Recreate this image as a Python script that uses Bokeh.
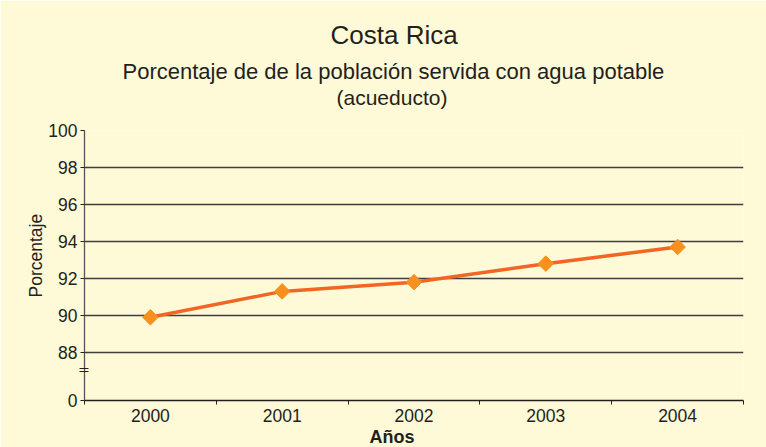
import math
from bokeh.plotting import figure
from bokeh.models import Range1d, FixedTicker, Title
from bokeh.embed import file_html
from bokeh.resources import INLINE

# ---- data ----
years = ["2000", "2001", "2002", "2003", "2004"]
values = [89.9, 91.3, 91.8, 92.8, 93.7]
y_ticks = [88, 90, 92, 94, 96, 98, 100]
y_zero_pos = 85.4          # where the broken axis shows "0"
y_break = [86.95, 87.15]   # axis break mark

title = "Costa Rica"
subtitle1 = "Porcentaje de  de la población servida con agua potable"
subtitle2 = "(acueducto)"
x_label = "Años"
y_label = "Porcentaje"

BG = "#FEF9D7"
TXT = "#231F20"
GRID = "#3F3F3F"

W, H = 766, 447
BL = 84

p = figure(width=W, height=H, output_backend="svg", toolbar_location=None,
           x_range=Range1d(0, len(years)), y_range=Range1d(y_zero_pos, 100),
           min_border_left=BL, min_border_right=23, min_border_top=130,
           min_border_bottom=47)
p.background_fill_color = BG
p.border_fill_color = BG
p.outline_line_color = None

xs = [i + 0.5 for i in range(len(years))]
p.line(xs, values, line_color="#F26524", line_width=3.5)
p.scatter(xs, values, marker="square", angle=math.pi / 4, size=11,
          fill_color="#F7901E", line_color="#F7901E")

# x axis
xa = p.xaxis[0]
xa.ticker = FixedTicker(ticks=xs, minor_ticks=list(range(len(years) + 1)))
xa.major_label_overrides = {x: y for x, y in zip(xs, years)}
xa.major_tick_line_color = None
xa.major_tick_out = 0
xa.major_tick_in = 0
xa.minor_tick_out = 4
xa.minor_tick_in = 0
xa.minor_tick_line_color = TXT
xa.axis_line_color = TXT
xa.axis_line_width = 1.3
xa.major_label_standoff = 4
xa.major_label_text_font = "Liberation Sans"
xa.major_label_text_font_size = "17.5px"
xa.major_label_text_color = TXT

# y axis
ya = p.yaxis[0]
ya.ticker = FixedTicker(ticks=[y_zero_pos] + y_ticks, minor_ticks=y_break)
ya.major_label_overrides = {y_zero_pos: "0"}
ya.major_tick_out = 4
ya.major_tick_in = 0
ya.minor_tick_out = 5
ya.minor_tick_in = 4
ya.minor_tick_line_color = TXT
ya.minor_tick_line_width = 1.2
ya.major_tick_line_color = TXT
ya.axis_line_color = "#555555"
ya.axis_line_width = 1.3
ya.major_label_standoff = 2
ya.major_label_text_font = "Liberation Sans"
ya.major_label_text_font_size = "17.5px"
ya.major_label_text_color = TXT

p.xgrid.grid_line_color = None
p.ygrid.ticker = FixedTicker(ticks=y_ticks)
p.ygrid.grid_line_color = GRID
p.ygrid.grid_line_width = 1.3


def mk_title(text, size, offset, standoff, style="normal"):
    return Title(text=text, align="left", offset=offset, standoff=standoff,
                 text_font="Liberation Sans", text_font_size=size,
                 text_font_style=style, text_color=TXT)


# above: first added sits closest to the frame (a blank spacer first)
p.add_layout(mk_title(" ", "4px", 0, 15), "above")
p.add_layout(mk_title(subtitle2, "21px", 336 - BL, 0), "above")
p.add_layout(mk_title(subtitle1, "22px", 122 - BL, 0), "above")
p.title.text = title
p.title.align = "left"
p.title.offset = 330 - BL
p.title.standoff = 13
p.title.text_font = "Liberation Sans"
p.title.text_font_size = "26px"
p.title.text_font_style = "normal"
p.title.text_color = TXT
p.add_layout(mk_title(x_label, "18px", 369 - BL, 0, style="bold"), "below")
p.add_layout(mk_title(y_label, "17.5px", 103, 0), "left")

open("out.html", "w").write(file_html(p, INLINE))
